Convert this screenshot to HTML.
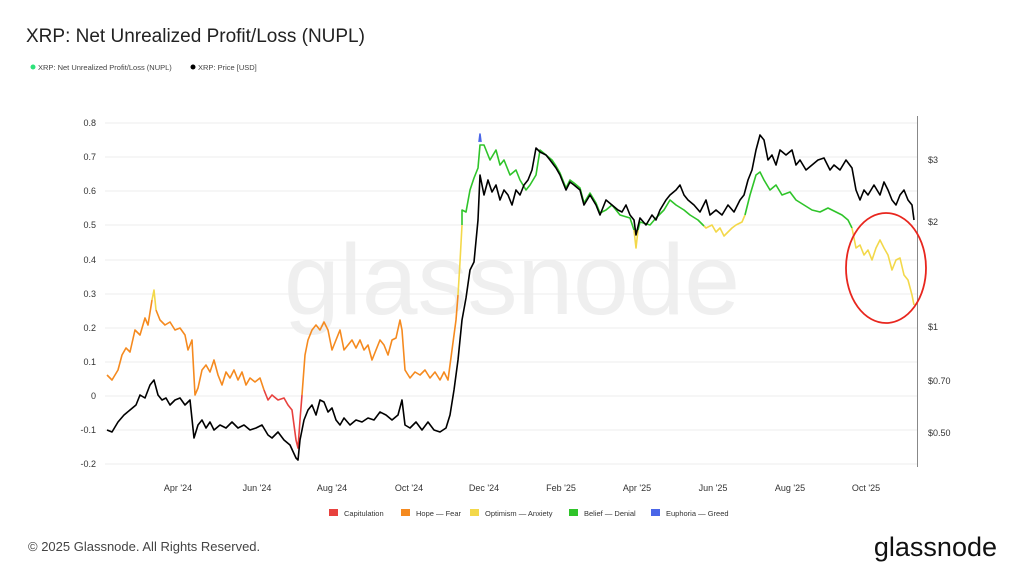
<!DOCTYPE html>
<html><head><meta charset="utf-8"><style>
html,body{margin:0;padding:0;background:#fff;width:1024px;height:576px;overflow:hidden;font-family:"Liberation Sans",sans-serif}
</style></head><body>
<svg width="1024" height="576" viewBox="0 0 1024 576" xmlns="http://www.w3.org/2000/svg" font-family="Liberation Sans, sans-serif">
<text x="26" y="42" font-size="19" fill="#222">XRP: Net Unrealized Profit/Loss (NUPL)</text>
<circle cx="33" cy="67" r="2.5" fill="#2de27a"/>
<text x="38" y="70" font-size="7.5" fill="#444">XRP: Net Unrealized Profit/Loss (NUPL)</text>
<circle cx="193" cy="67" r="2.5" fill="#000"/>
<text x="198" y="70" font-size="7.5" fill="#444">XRP: Price [USD]</text>
<text x="512" y="314" font-size="100" fill="#efefef" text-anchor="middle">glassnode</text>
<g stroke="#eee" stroke-width="1">
<line x1="105" x2="917" y1="123" y2="123"/><line x1="105" x2="917" y1="157" y2="157"/><line x1="105" x2="917" y1="191" y2="191"/><line x1="105" x2="917" y1="225" y2="225"/><line x1="105" x2="917" y1="260" y2="260"/><line x1="105" x2="917" y1="294" y2="294"/><line x1="105" x2="917" y1="328" y2="328"/><line x1="105" x2="917" y1="362" y2="362"/><line x1="105" x2="917" y1="396" y2="396"/><line x1="105" x2="917" y1="430" y2="430"/><line x1="105" x2="917" y1="464" y2="464"/>
</g>
<line x1="917.5" x2="917.5" y1="116" y2="467" stroke="#888" stroke-width="1"/>
<g font-size="9" fill="#333" text-anchor="end">
<text x="96" y="126">0.8</text><text x="96" y="160">0.7</text><text x="96" y="194">0.6</text><text x="96" y="228">0.5</text><text x="96" y="263">0.4</text><text x="96" y="297">0.3</text><text x="96" y="331">0.2</text><text x="96" y="365">0.1</text><text x="96" y="399">0</text><text x="96" y="433">-0.1</text><text x="96" y="467">-0.2</text>
</g>
<g font-size="9" fill="#333">
<text x="928" y="163">$3</text><text x="928" y="225">$2</text><text x="928" y="330">$1</text><text x="928" y="384">$0.70</text><text x="928" y="436">$0.50</text>
</g>
<g font-size="9" fill="#333" text-anchor="middle">
<text x="178" y="491">Apr '24</text><text x="257" y="491">Jun '24</text><text x="332" y="491">Aug '24</text><text x="409" y="491">Oct '24</text><text x="484" y="491">Dec '24</text><text x="561" y="491">Feb '25</text><text x="637" y="491">Apr '25</text><text x="713" y="491">Jun '25</text><text x="790" y="491">Aug '25</text><text x="866" y="491">Oct '25</text>
</g>
<g fill="none" stroke-width="1.6" stroke-linejoin="round">
<polyline stroke="#f58a1f" points="107,375 112,380 118,370 122,355 126,348 130,352 135,330 140,335 145,318 148,325 152,300"/>
<polyline stroke="#f3d84a" points="152,300 154,290 156,310"/>
<polyline stroke="#f58a1f" points="156,310 160,320 165,325 170,322 175,330 180,328 185,335 188,350 192,340 195,395 198,388 202,370 206,365 210,372 214,360 218,375 222,385 226,372 230,378 234,370 238,380 242,372 246,385 250,378 255,382 260,378 264,390"/>
<polyline stroke="#e8413e" points="264,390 268,400 272,395 278,400 284,398 288,405 292,410 296,440 298,448 300,420 302,395"/>
<polyline stroke="#f58a1f" points="302,395 305,355 308,340 312,330 316,325 320,330 324,322 328,330 332,350 336,340 340,330 344,350 348,345 352,340 356,348 360,340 364,350 368,345 372,360 376,350 380,340 384,345 388,355 392,340 396,338 400,320 402,330 405,370 410,378 415,372 420,375 425,370 430,378 435,372 440,380 444,372 448,380 452,350 456,320 458,295"/>
<polyline stroke="#f3d84a" points="458,295 460,262 462,225"/>
<polyline stroke="#2fc42a" points="462,225 462,210 466,212 470,190 474,178 478,168 480,145 484,145 490,160 496,150 500,165 504,160 510,175 516,170 520,180 526,190 530,185 536,175 540,150 546,155 552,160 556,166 560,173 566,188 570,180 574,183 580,188 584,203 590,193 596,203 600,213 606,210 612,205 620,215 630,218 634,230"/>
<polyline stroke="#f3d84a" points="634,230 636,248 638,230"/>
<polyline stroke="#2fc42a" points="638,230 640,222 650,225 656,218 664,210 670,200 676,205 684,210 690,215 698,220 704,226"/>
<polyline stroke="#f3d84a" points="704,226 706,228 712,225 716,232 720,228 724,236 728,232 732,228 736,225 742,222 745,215"/>
<polyline stroke="#2fc42a" points="745,215 750,195 756,175 760,172 764,180 770,190 776,185 782,195 790,192 796,200 804,205 812,210 820,212 828,208 836,212 842,215 848,220 852,228"/>
<polyline stroke="#f3d84a" points="852,228 856,248 860,245 864,255 868,250 872,260 876,248 880,240 884,248 888,255 892,270 896,260 900,258 904,275 908,280 912,295 914,305"/>
<polyline stroke="#4a66e8" points="479,142 480,134 481,142"/>
<polyline stroke="#000" points="107,430 112,432 118,422 124,415 130,410 136,405 140,395 145,398 150,385 154,380 158,395 162,400 166,398 170,405 175,400 180,398 185,405 190,400 194,438 198,425 202,420 206,428 210,422 214,430 220,425 226,428 232,422 238,428 244,425 250,430 256,428 262,425 268,435 272,438 278,432 284,440 290,445 296,458 298,460 300,440 304,420 308,410 312,405 316,415 320,400 324,402 328,412 332,408 336,420 340,425 344,418 350,425 356,420 362,422 368,418 374,420 380,412 386,415 392,420 398,415 402,400 405,425 410,428 416,422 422,430 428,422 434,430 440,432 446,428 450,415 454,390 458,360 462,320 466,298 470,270 474,262 478,220 480,175 484,195 488,180 492,192 496,185 500,200 504,190 508,195 512,205 516,190 520,195 524,185 528,180 532,170 536,148 540,152 546,155 550,160 556,168 560,175 566,190 570,182 574,185 580,190 584,205 590,195 596,205 600,215 606,200 612,205 618,210 622,212 626,205 630,215 634,220 636,235 640,218 646,225 652,215 656,220 660,210 666,200 670,195 676,190 680,185 684,195 688,200 694,205 700,212 706,200 710,215 716,210 722,215 728,205 734,212 740,200 744,195 748,180 752,170 756,150 760,135 764,140 768,160 772,155 776,165 780,150 786,155 792,150 796,165 800,160 806,170 812,165 818,160 824,158 830,170 834,165 840,170 846,160 852,168 856,190 860,200 864,190 868,195 874,185 880,195 884,182 888,190 892,200 896,205 900,195 904,190 908,200 912,205 914,220"/>
</g>
<ellipse cx="886" cy="268" rx="40" ry="55" fill="none" stroke="#e8261e" stroke-width="1.8"/>
<g font-size="7.5" fill="#333">
<rect x="329" y="509" width="9" height="7" fill="#e8413e"/><text x="344" y="516">Capitulation</text>
<rect x="401" y="509" width="9" height="7" fill="#f58a1f"/><text x="416" y="516">Hope — Fear</text>
<rect x="470" y="509" width="9" height="7" fill="#f3d84a"/><text x="485" y="516">Optimism — Anxiety</text>
<rect x="569" y="509" width="9" height="7" fill="#2fc42a"/><text x="584" y="516">Belief — Denial</text>
<rect x="651" y="509" width="9" height="7" fill="#4a66e8"/><text x="666" y="516">Euphoria — Greed</text>
</g>
<text x="28" y="551" font-size="13" fill="#444">© 2025 Glassnode. All Rights Reserved.</text>
<text x="997" y="556" font-size="27" fill="#111" text-anchor="end">glassnode</text>
</svg>
</body></html>
